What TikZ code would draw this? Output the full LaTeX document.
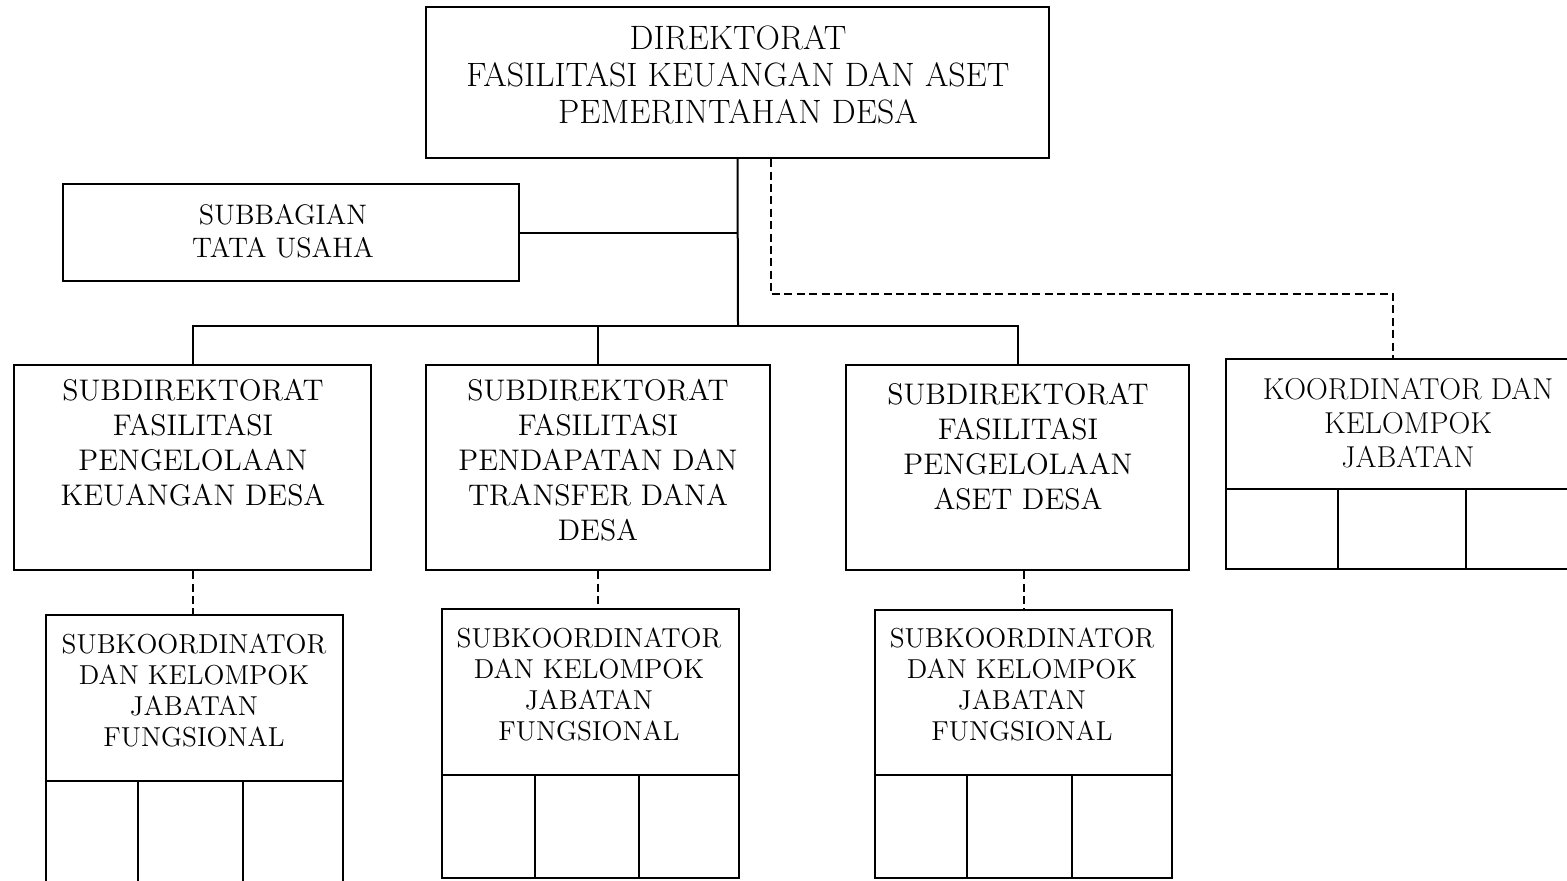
\documentclass[tikz,border=0pt]{standalone}
\usetikzlibrary{calc}
\begin{document}
\begin{tikzpicture}[x=0.5pt,y=-0.5pt,
  box/.style={draw,line width=1.1pt,rectangle,inner sep=0pt},
  lbl/.style={align=center,inner sep=0pt},
  solidline/.style={line width=1pt},
  dashline/.style={line width=1pt,dash pattern=on 4pt off 2.2pt},
  cell/.style={line width=1.1pt},
  ftop/.style={font=\fontsize{16.9}{18.5}\selectfont},
  fsub/.style={font=\fontsize{14.9}{17.5}\selectfont},
  fsk/.style={font=\fontsize{13.7}{15.5}\selectfont},
  fk/.style={font=\fontsize{15.1}{17}\selectfont},
  fsb/.style={font=\fontsize{14.1}{16.5}\selectfont}]
\useasboundingbox (0,0) rectangle (1567,880);
\clip (0,0) rectangle (1567,880);
% boxes
\node[box,minimum width=311.5pt,minimum height=75.5pt] (dir) at (737.5,82.5) {};
\node[box,minimum width=228pt,minimum height=48.5pt] (sbg) at (291,232.5) {};
\node[box,minimum width=178.5pt,minimum height=102.5pt] (s1) at (192.5,467.5) {};
\node[box,minimum width=172pt,minimum height=102.5pt] (s2) at (598,467.5) {};
\node[box,minimum width=171.5pt,minimum height=102.5pt] (s3) at (1017.5,467.5) {};
\node[box,minimum width=182pt,minimum height=105pt] (k) at (1408,464) {};
\node[box,minimum width=148.5pt,minimum height=142.5pt] (sk1) at (194.5,757.5) {};
\node[box,minimum width=148.5pt,minimum height=134.5pt] (sk2) at (590.5,743.5) {};
\node[box,minimum width=148.5pt,minimum height=134pt] (sk3) at (1023.5,744) {};
% cell dividers
\draw[cell] (sk1.west |- 0,781) -- (sk1.east |- 0,781);
\draw[cell] (138,781) -- (138,900) (243,781) -- (243,900);
\draw[cell] (sk2.west |- 0,775) -- (sk2.east |- 0,775);
\draw[cell] (535,775) -- (535,878) (639,775) -- (639,878);
\draw[cell] (sk3.west |- 0,775) -- (sk3.east |- 0,775);
\draw[cell] (967,775) -- (967,878) (1072,775) -- (1072,878);
\draw[cell] (k.west |- 0,489) -- (k.east |- 0,489);
\draw[cell] (1338,489) -- (1338,569) (1466,489) -- (1466,569);
% labels
\node[lbl,ftop] (tdir) at (738,75) {DIREKTORAT\\FASILITASI KEUANGAN DAN ASET\\PEMERINTAHAN DESA};
\node[lbl,fsb] (tsbg) at (283,231) {SUBBAGIAN\\TATA USAHA};
\node[lbl,fsub] (ts1) at (193,443) {SUBDIREKTORAT\\FASILITASI\\PENGELOLAAN\\KEUANGAN DESA};
\node[lbl,fsub] (ts2) at (598,460) {SUBDIREKTORAT\\FASILITASI\\PENDAPATAN DAN\\TRANSFER DANA\\DESA};
\node[lbl,fsub] (ts3) at (1018,447) {SUBDIREKTORAT\\FASILITASI\\PENGELOLAAN\\ASET DESA};
\node[lbl,fk] (tk) at (1408,423) {KOORDINATOR DAN\\KELOMPOK\\JABATAN};
\node[lbl,fsk] (tsk1) at (194,690) {SUBKOORDINATOR\\DAN KELOMPOK\\JABATAN\\FUNGSIONAL};
\node[lbl,fsk] (tsk2) at (589,684) {SUBKOORDINATOR\\DAN KELOMPOK\\JABATAN\\FUNGSIONAL};
\node[lbl,fsk] (tsk3) at (1022,684) {SUBKOORDINATOR\\DAN KELOMPOK\\JABATAN\\FUNGSIONAL};
% connectors
\coordinate (j) at (738,326);
\draw[solidline] (dir.south) -- (j);
\draw[solidline] (sbg.east) -- (sbg.east -| j);
\draw[solidline] (s1.north) |- (j) -| (s3.north);
\draw[solidline] (s2.north) -- (s2.north |- j);
\coordinate (kin) at (1393,359);
\draw[dashline] ([xshift=16.5pt]dir.south) -- ++(0,135) -| (kin);
\draw[dashline] (s1.south) -- (s1.south |- sk1.north);
\draw[dashline] (s2.south) -- (s2.south |- sk2.north);
\draw[dashline] (sk3.north |- s3.south) -- (sk3.north);
\end{tikzpicture}
\end{document}
